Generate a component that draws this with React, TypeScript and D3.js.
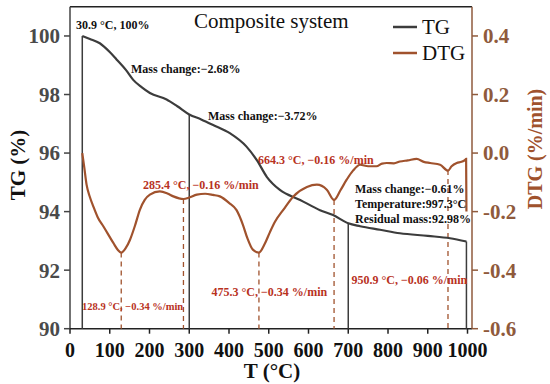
import React from "react";
import * as d3 from "d3";

const tgData: [number, number][] = [
  [30.9, 100], [50, 99.9], [75, 99.75], [100, 99.45], [117, 99.2], [140, 98.85], [159, 98.5],
  [180, 98.25], [201, 98.05], [243, 97.83], [270, 97.6], [300, 97.32], [330, 97.15], [360, 96.96],
  [402, 96.68], [444, 96.22], [470, 95.76], [495, 95.19], [528, 94.74], [579, 94.4], [629, 94.05],
  [662, 93.88], [700, 93.6], [730, 93.5], [780, 93.38], [830, 93.26], [900, 93.17], [956, 93.09],
  [997.3, 92.98],
];

const dtgData: [number, number][] = [
  [30.9, 0.0], [36, -0.05], [41.7, -0.108], [50, -0.15], [58.6, -0.182], [70, -0.22], [83.8, -0.25],
  [109, -0.307], [120, -0.33], [128.9, -0.34], [140, -0.325], [151, -0.296], [163, -0.25],
  [176, -0.193], [188, -0.16], [201, -0.142], [226, -0.131], [245, -0.138], [260, -0.148],
  [285.4, -0.157], [300, -0.152], [319, -0.142], [340, -0.139], [360, -0.143], [377, -0.148],
  [400, -0.17], [419, -0.195], [435, -0.245], [446, -0.29], [460, -0.33], [475.3, -0.34],
  [490, -0.31], [503, -0.27], [516, -0.234], [537, -0.193], [562, -0.148], [596, -0.116],
  [621, -0.108], [646, -0.125], [664.3, -0.16], [680, -0.128], [696, -0.091], [712, -0.06],
  [730, -0.04], [750, -0.045], [771, -0.045], [785, -0.036], [797, -0.034], [815, -0.035],
  [830, -0.029], [850, -0.025], [872, -0.02], [890, -0.03], [906, -0.034], [931, -0.04],
  [950.9, -0.06], [960, -0.045], [973, -0.034], [985, -0.03], [994, -0.023], [996.5, -0.02],
  [997.3, -0.2],
];

const xTicks = [0, 100, 200, 300, 400, 500, 600, 700, 800, 900, 1000];
const tgTicks = [90, 92, 94, 96, 98, 100];
const dtgTicks = [-0.6, -0.4, -0.2, 0.0, 0.2, 0.4];

const stepLines: [number, number][] = [[30.9, 100], [300, 97.32], [700, 93.6], [997.3, 92.98]];
const peakLines: [number, number][] = [[128.9, -0.34], [285.4, -0.157], [475.3, -0.34], [664.3, -0.16], [950.9, -0.058]];

const blackNotes: [string, number, number][] = [
  ["30.9 °C, 100%", 76, 29],
  ["Mass change:−2.68%", 131, 73],
  ["Mass change:−3.72%", 208, 120],
  ["Mass change:−0.61%", 355, 193],
  ["Temperature:997.3°C", 355, 207.5],
  ["Residual mass:92.98%", 355, 222.5],
];
const redNotes: [string, number, number, number][] = [
  ["664.3 °C, −0.16 %/min", 258, 163.5, 12],
  ["285.4 °C, −0.16 %/min", 143, 189, 12],
  ["128.9 °C, −0.34 %/min", 82, 309.5, 10.5],
  ["475.3 °C, −0.34 %/min", 211.5, 295.5, 12],
  ["950.9 °C, −0.06 %/min", 351.5, 284, 12],
];

const FONT = "'Liberation Serif', 'Times New Roman', serif";
const BROWN = "#a0522d";
const AXBROWN = "#8f5a3c";
const RED = "#b8321e";
const GREY = "#3c3c3c";

export default function App() {
  const left = 70, right = 472, top = 6.7, bottom = 328.7;
  const x = d3.scaleLinear().domain([0, 1011.3]).range([left, right]);
  const yL = d3.scaleLinear().domain([90, 101]).range([bottom, top]);
  const yR = d3.scaleLinear().domain([-0.6, 0.5]).range([bottom, top]);

  const tgLine = d3.line<[number, number]>().x(d => x(d[0])).y(d => yL(d[1])).curve(d3.curveMonotoneX);
  const dtgLine = d3.line<[number, number]>().x(d => x(d[0])).y(d => yR(d[1])).curve(d3.curveMonotoneX);

  return (
    <svg width={550} height={384} style={{ position: "absolute", left: 0, top: 0, background: "#fff" }} fontFamily={FONT}>
      {/* frame */}
      <line x1={left} x2={right} y1={top} y2={top} stroke="#222" strokeWidth={1.5} />
      <line x1={left} x2={left} y1={top} y2={bottom} stroke="#444" strokeWidth={1.5} />
      <line x1={left} x2={right} y1={bottom} y2={bottom} stroke="#222" strokeWidth={1.5} />
      <line x1={right} x2={right} y1={top} y2={bottom} stroke={AXBROWN} strokeWidth={1.5} />

      {/* left ticks */}
      {tgTicks.map(t => (
        <g key={"l" + t}>
          <line x1={left - 6} x2={left} y1={yL(t)} y2={yL(t)} stroke="#444" strokeWidth={1.5} />
          <text x={60} y={yL(t)} dy="0.35em" textAnchor="end" fontSize={21} fontWeight="bold" fill="#4a4a4a">{t}</text>
        </g>
      ))}
      {/* right ticks */}
      {dtgTicks.map(t => (
        <g key={"r" + t}>
          <line x1={right} x2={right + 6} y1={yR(t)} y2={yR(t)} stroke={AXBROWN} strokeWidth={1.5} />
          <text x={right + 11} y={yR(t)} dy="0.35em" textAnchor="start" fontSize={21} fontWeight="bold" fill={AXBROWN}>
            {t < 0 ? "-" + Math.abs(t).toFixed(1) : t.toFixed(1)}
          </text>
        </g>
      ))}
      {/* bottom ticks */}
      {xTicks.map(t => (
        <g key={"b" + t}>
          <line x1={x(t)} x2={x(t)} y1={bottom} y2={bottom + 5} stroke="#222" strokeWidth={1.5} />
          <text x={x(t)} y={357} textAnchor="middle" fontSize={20} fontWeight="bold" fill="#111">{t}</text>
        </g>
      ))}

      {/* axis titles */}
      <text x={272} y={378} textAnchor="middle" fontSize={21} fontWeight="bold" fill="#111">T (°C)</text>
      <text transform="translate(18,165) rotate(-90)" textAnchor="middle" dominantBaseline="central" fontSize={21} fontWeight="bold" fill="#111">TG (%)</text>
      <text transform="translate(535,149) rotate(-90)" textAnchor="middle" dominantBaseline="central" fontSize={20} fontWeight="bold" fill={BROWN}>DTG (%/min)</text>

      {/* step lines */}
      {stepLines.map(([t, v]) => (
        <line key={"s" + t} x1={x(t)} x2={x(t)} y1={yL(v)} y2={bottom} stroke={GREY} strokeWidth={1.5} />
      ))}
      {/* peak dashed lines */}
      {peakLines.map(([t, v]) => (
        <line key={"p" + t} x1={x(t)} x2={x(t)} y1={yR(v)} y2={bottom} stroke={BROWN} strokeWidth={1.3} strokeDasharray="5,4" />
      ))}

      <path d={tgLine(tgData) || ""} fill="none" stroke={GREY} strokeWidth={2.2} />
      <path d={dtgLine(dtgData) || ""} fill="none" stroke={BROWN} strokeWidth={2.2} />

      {/* title & legend */}
      <text x={194} y={28} fontSize={21} fill="#111">Composite system</text>
      <line x1={393} x2={417} y1={27} y2={27} stroke={GREY} strokeWidth={2.5} />
      <text x={422} y={34} fontSize={21} fill="#111">TG</text>
      <line x1={393} x2={417} y1={53} y2={53} stroke={BROWN} strokeWidth={2.5} />
      <text x={422} y={60} fontSize={21} fill="#111">DTG</text>

      {blackNotes.map(([s, tx, ty]) => (
        <text key={s} x={tx} y={ty} fontSize={12} fontWeight="bold" fill="#111">{s}</text>
      ))}
      {redNotes.map(([s, tx, ty, fs]) => (
        <text key={s} x={tx} y={ty} fontSize={fs} fontWeight="bold" fill={RED}>{s}</text>
      ))}
    </svg>
  );
}
